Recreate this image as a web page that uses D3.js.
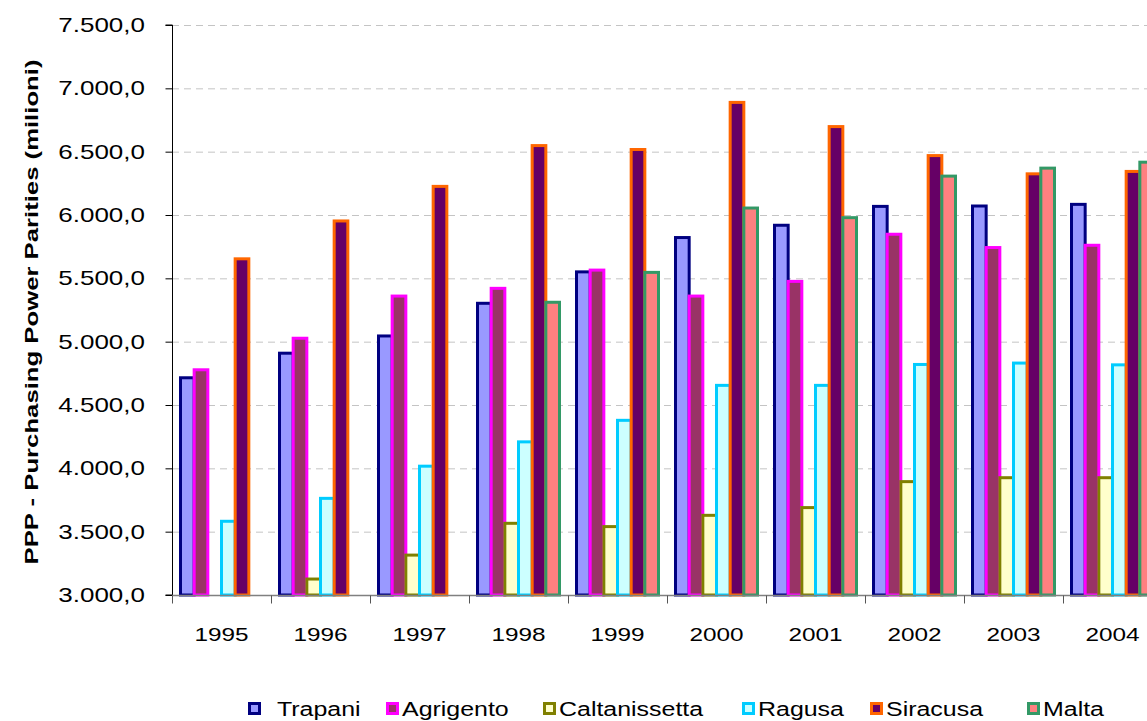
<!DOCTYPE html>
<html><head><meta charset="utf-8">
<script src="https://cdn.jsdelivr.net/npm/d3@7"></script>
<style>html,body{margin:0;padding:0;background:#fff;overflow:hidden}svg{display:block}text{font-family:"Liberation Sans",Arial,sans-serif;fill:#000}</style>
</head><body><svg id="c" width="1147" height="721"></svg>
<script>
const years = ["1995","1996","1997","1998","1999","2000","2001","2002","2003","2004"];
const seriesNames = ["Trapani","Agrigento","Caltanissetta","Ragusa","Siracusa","Malta"];
const trapani       = [4715, 4909, 5045, 5303, 5551, 5822, 5919, 6068, 6071, 6084];
const agrigento     = [4778, 5027, 5360, 5421, 5565, 5360, 5476, 5848, 5743, 5761];
const caltanissetta = [null, 3126, 3315, 3566, 3540, 3629, 3690, 3895, 3926, 3926];
const ragusa        = [3582, 3763, 4017, 4209, 4379, 4655, 4655, 4820, 4831, 4817];
const siracusa      = [5654, 5953, 6226, 6548, 6517, 6889, 6698, 6469, 6325, 6344];
const malta         = [null, null, null, 5311, 5547, 6055, 5979, 6307, 6370, 6417];
const yTicks = [3000,3500,4000,4500,5000,5500,6000,6500,7000,7500];
const yTitle = "PPP -  Purchasing Power Parities (milioni)";

const fills   = ["#9999FF","#993366","#FFFFCC","#CCFFFF","#660066","#FF8080"];
const strokes = ["#000080","#FF00FF","#808000","#00CCFF","#FF6600","#339966"];
const allSeries = [trapani, agrigento, caltanissetta, ragusa, siracusa, malta];

const svg = d3.select("#c");
const L = 172, R = 1162, T = 25, B = 595;
const SX = 1.28; // horizontal text stretch
const x0 = d3.scaleBand().domain(years).range([L, R]).paddingInner(0).paddingOuter(0);
const x1 = d3.scaleBand().domain(seriesNames).range([8.5, x0.bandwidth() - 8.5]);
const y = d3.scaleLinear().domain([3000, 7500]).range([B, T]);
const loc = d3.formatLocale({decimal: ",", thousands: ".", grouping: [3], currency: ["", ""]});
const fmt = loc.format(",.1f");

// gridlines
svg.append("g").selectAll("line").data(yTicks.slice(1)).join("line")
  .attr("x1", L).attr("x2", R).attr("y1", d => y(d) + 0.5).attr("y2", d => y(d) + 0.5)
  .attr("stroke", "#c4c4c4").attr("stroke-width", 1).attr("stroke-dasharray", "7,5");

// bars
allSeries.forEach((vals, si) => {
  svg.append("g").selectAll("rect")
    .data(years.map((yr, i) => ({yr, v: vals[i]})).filter(d => d.v != null))
    .join("rect")
    .attr("x", d => x0(d.yr) + x1(seriesNames[si]))
    .attr("width", x1.bandwidth())
    .attr("y", d => y(d.v))
    .attr("height", d => y(3000) - y(d.v))
    .attr("fill", fills[si]).attr("stroke", strokes[si]).attr("stroke-width", 3);
});

// y axis
const ya = svg.append("g").attr("transform", `translate(${L + 0.5},0)`)
  .call(d3.axisLeft(y).tickValues(yTicks).tickSize(7).tickFormat(""));
ya.select(".domain").attr("stroke", "#000").attr("d", `M-7,${T}H0V${B}H-7`);
ya.selectAll(".tick line").attr("stroke", "#000");
svg.append("g").selectAll("text").data(yTicks).join("text")
  .attr("transform", d => `translate(${145},${y(d) + 7}) scale(1.3,1)`)
  .attr("text-anchor", "end").style("font-size", "20px").text(d => fmt(d));

// x axis
const xa = svg.append("g").attr("transform", `translate(0,${B + 0.5})`);
xa.append("line").attr("x1", L).attr("x2", R).attr("stroke", "#808080").attr("stroke-width", 1.5);
xa.selectAll("line.t").data(years.concat(["end"])).join("line").attr("class", "t")
  .attr("x1", (d, i) => Math.round(x0.range()[0] + i * x0.step()) + 0.5)
  .attr("x2", (d, i) => Math.round(x0.range()[0] + i * x0.step()) + 0.5)
  .attr("y1", 0).attr("y2", 8).attr("stroke", "#555");
svg.append("g").selectAll("text").data(years).join("text")
  .attr("transform", d => `translate(${x0(d) + x0.bandwidth() / 2},${641}) scale(${SX},1)`)
  .attr("text-anchor", "middle").style("font-size", "19px").text(d => d);

// y title
svg.append("text")
  .attr("transform", `translate(38,${312}) rotate(-90)`)
  .attr("text-anchor", "middle").style("font-size", "19px").style("font-weight", "bold")
  .attr("textLength", 505).attr("lengthAdjust", "spacingAndGlyphs")
  .text(yTitle);

// legend
const legX = [248, 386, 543, 742, 870, 1027];
const lg = svg.append("g");
seriesNames.forEach((n, i) => {
  lg.append("rect").attr("x", legX[i] + 1.5).attr("y", 703.5).attr("width", 10).attr("height", 10)
    .attr("fill", fills[i]).attr("stroke", strokes[i]).attr("stroke-width", 3);
  lg.append("text").attr("transform", `translate(${legX[i] + (i === 0 ? 29 : 16)},${716}) scale(${SX},1)`)
    .style("font-size", "19.5px").text(n);
});
</script></body></html>
